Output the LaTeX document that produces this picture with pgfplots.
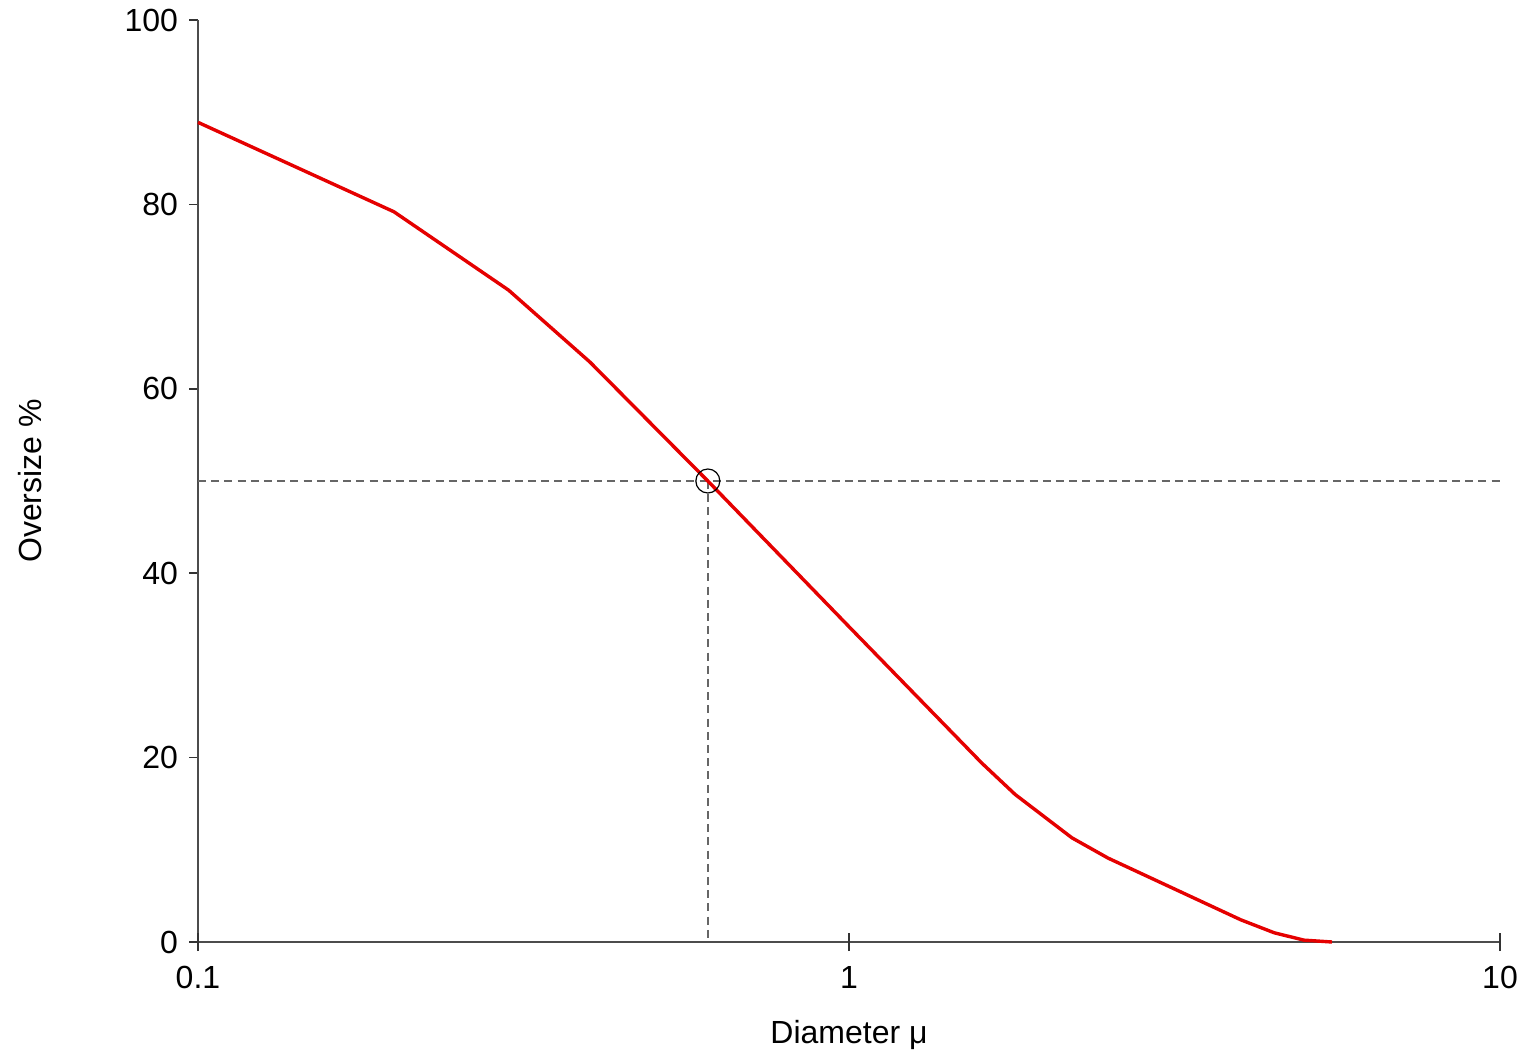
\documentclass[border=0pt]{standalone}
\usepackage{pgfplots}
\pgfplotsset{compat=1.18}
\usepackage{fontspec}
\setmainfont{Liberation Sans}
\begin{document}
\fontsize{16}{19}\selectfont
\begin{tikzpicture}
\begin{axis}[
  name=ax,
  scale only axis,
  width=651pt, height=461pt,
  xmode=log,
  xmin=0.1, xmax=10, ymin=0, ymax=100,
  axis x line=bottom, axis y line=left,
  axis line style={-, black!70, line width=0.75pt},
  xtick=\empty,
  extra x ticks={0.1,1,10}, extra x tick labels={0.1,1,10},
  extra x tick style={major tick length=9pt, xtick align=center, grid=none,
    xticklabel style={yshift=-2pt}},
  ytick={0,20,40,60,80,100}, yticklabels={0,20,40,60,80,100},
  minor xtick={}, minor ytick={},
  major tick length=4.5pt,
  tick style={black!80, line width=0.75pt},
  ytick align=outside,
  tick label style={font=\fontsize{16}{19}\selectfont},
  label style={font=\fontsize{16}{19}\selectfont},
  xlabel={Diameter μ},
  ylabel={Oversize \%},
  xlabel style={at={(axis description cs:0.5,-0.1009)}, anchor=center},
  ylabel style={at={(axis description cs:-0.129,0.5)}, anchor=center},
  clip=false,
]
\addplot[black!60, line width=0.8pt, dash pattern=on 4pt off 2.6pt] coordinates {(0.1,50) (10,50)};
\addplot[black!60, line width=0.8pt, dash pattern=on 4pt off 2.6pt] coordinates {(0.607,50) (0.607,0)};
\addplot[red!90!black, line width=1.7pt, line join=round] coordinates {
(0.1,88.9) (0.2,79.2) (0.3,70.7) (0.4,62.9) (0.607,50.0) (1.0,34.2)
(1.6,19.4) (1.8,16.0) (2.2,11.3) (2.5,9.1) (4.0,2.4) (4.5,1.0) (5.0,0.2) (5.52,0.0)
};
\addplot[only marks, mark=o, mark size=6pt, mark options={black, line width=0.6pt}] coordinates {(0.607,50)};
\end{axis}
\pgfresetboundingbox
\path (ax.south west) ++(-99pt,-56.5pt) rectangle ++(763pt,527.5pt);
\end{tikzpicture}
\end{document}
